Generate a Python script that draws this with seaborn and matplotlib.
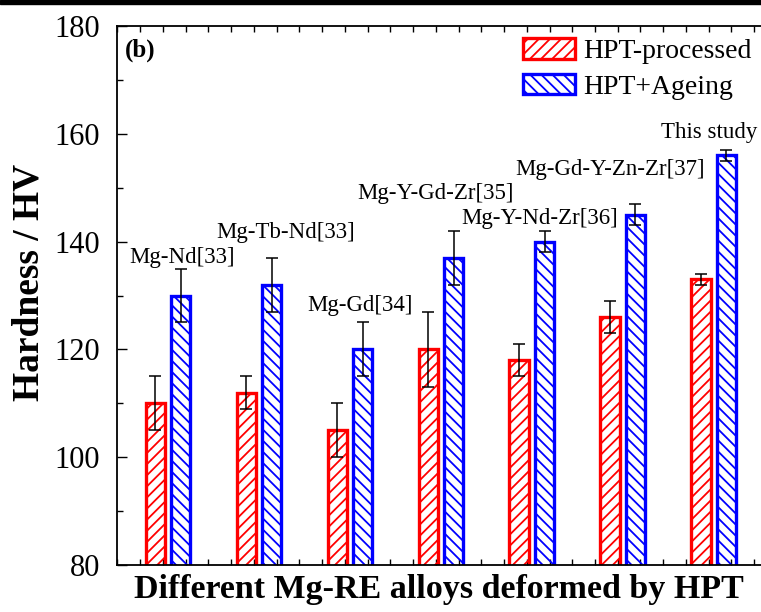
import numpy as np
import pandas as pd
import seaborn as sns
import matplotlib.pyplot as plt
from matplotlib.patches import Rectangle
from matplotlib.ticker import MultipleLocator

alloys = ["Mg-Nd[33]", "Mg-Tb-Nd[33]", "Mg-Gd[34]", "Mg-Y-Gd-Zr[35]",
          "Mg-Y-Nd-Zr[36]", "Mg-Gd-Y-Zn-Zr[37]", "This study"]
hpt = [110, 112, 105, 120, 118, 126, 133]
hpt_err = [5, 3, 5, 7, 3, 3, 1]
aged = [130, 132, 120, 137, 140, 145, 156]
aged_err = [5, 5, 5, 5, 2, 2, 1]
conditions = ["HPT-processed", "HPT+Ageing"]

# label spots (x in group units, y in HV)
label_x = [0.155, 1.30, 2.11, 2.94, 4.09, 4.86, 5.95]
label_y = [137.1, 141.6, 128.2, 149.0, 144.2, 153.3, 160.3]

df = pd.DataFrame({
    "alloy": alloys * 2,
    "cond": [conditions[0]] * len(alloys) + [conditions[1]] * len(alloys),
    "hv": hpt + aged,
})

sns.set_style("ticks", {"axes.edgecolor": "black", "text.color": "black",
                        "axes.labelcolor": "black", "xtick.color": "black",
                        "ytick.color": "black"})
plt.rcParams['font.family'] = ['Liberation Serif', 'DejaVu Serif']
plt.rcParams['hatch.linewidth'] = 1.3

fig = plt.figure(figsize=(7.61, 6.12), dpi=100)
ax = fig.add_axes([0.1537, 0.0768, 0.8463, 0.8807])

sns.barplot(data=df, x="alloy", y="hv", hue="cond", hue_order=conditions,
            palette=["red", "blue"], fill=False, width=0.56, gap=0.25,
            linewidth=2.4, ax=ax, legend=True)

hatches = ["///", "\\\\\\"]
errs = [hpt_err, aged_err]
vals = [hpt, aged]
for cont, h, e, v in zip(ax.containers, hatches, errs, vals):
    xs = []
    for bar in cont:
        bar.set_hatch(h)
        xs.append(bar.get_x() + bar.get_width() / 2)
    ax.errorbar(xs, v, yerr=e, fmt="none", ecolor="black", elinewidth=1.1,
                capsize=4.5, capthick=1.1, zorder=5)

for name, x, y in zip(alloys, label_x, label_y):
    ax.text(x, y, name, ha="center", va="center", fontsize=16.5)

ax.text(0.012, 0.955, "(b)", transform=ax.transAxes, fontsize=18,
        fontweight="bold", va="center", ha="left")

ax.set_xlim(-0.56, 6.52)
ax.set_ylim(80, 180)
ax.yaxis.set_major_locator(MultipleLocator(20))
ax.yaxis.set_minor_locator(MultipleLocator(10))
ax.set_xticks([])
ax.set_xticks(np.arange(-0.555, 6.52, 0.25), minor=True)
ax.tick_params(axis="x", which="minor", direction="in", length=4, width=1,
               top=True, bottom=True)
ax.tick_params(axis="y", which="major", direction="in", length=7, width=1,
               labelsize=22, pad=12)
ax.tick_params(axis="y", which="minor", direction="in", length=4, width=1)
for s in ["left", "top", "bottom"]:
    ax.spines[s].set_linewidth(1.3)
ax.spines["right"].set_visible(False)

ax.set_xlabel("Different Mg-RE alloys deformed by HPT", fontsize=24.5,
              fontweight="bold", labelpad=3)
ax.set_ylabel("Hardness / HV", fontsize=27, fontweight="bold")
ax.yaxis.set_label_coords(-0.11, 0.525)

leg = ax.legend(loc="upper right", bbox_to_anchor=(1.012, 1.008),
                frameon=False, fontsize=20, handlelength=1.9,
                handleheight=0.75, handletextpad=0.3, labelspacing=0.35,
                borderaxespad=0.2)
for patch, h in zip(leg.get_patches(), hatches):
    patch.set_hatch(h)

fig.add_artist(Rectangle((0, 1 - 4 / 612), 1, 4 / 612, transform=fig.transFigure,
                         color="black"))

fig.savefig("out.png", dpi=100)
